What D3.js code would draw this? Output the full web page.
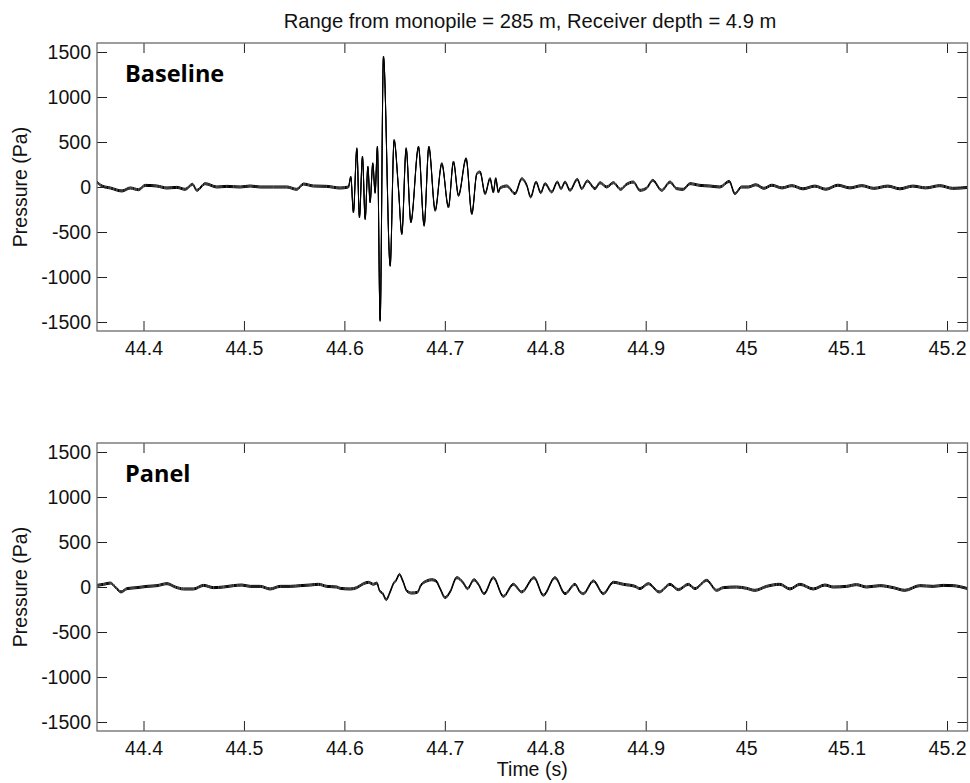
<!DOCTYPE html>
<html>
<head>
<meta charset="utf-8">
<script src="https://cdn.jsdelivr.net/npm/d3@7"></script>
<style>
  html, body { margin: 0; padding: 0; background: #fff; }
  svg { display: block; }
  text { fill: #111; }
</style>
</head>
<body>
<svg id="chart" width="970" height="783"></svg>
<script>
// Pressure trace, baseline recording (time in s, pressure in Pa)
const baselineTimes = [
  44.3537, 44.3587, 44.3670, 44.3786, 44.3868, 44.3950, 44.4017, 44.4133, 44.4233, 44.4332,
  44.4415, 44.4488, 44.4531, 44.4614, 44.4730, 44.4830, 44.4962, 44.5062, 44.5161, 44.5294,
  44.5427, 44.5526, 44.5592, 44.5692, 44.5825, 44.5957, 44.6040,
  44.6064, 44.6090, 44.6124, 44.6150, 44.6180, 44.6207, 44.6234, 44.6256, 44.6283, 44.6306,
  44.6329, 44.6356, 44.6389, 44.6456, 44.6495, 44.6538, 44.6572, 44.6615, 44.6662, 44.6738,
  44.6794, 44.6841, 44.6904, 44.6970, 44.7036, 44.7086, 44.7136, 44.7212, 44.7269, 44.7319,
  44.7351, 44.7401, 44.7450, 44.7483, 44.7507, 44.7533,
  44.7550, 44.7617, 44.7699, 44.7766, 44.7816, 44.7855, 44.7908, 44.7955, 44.7998, 44.8064,
  44.8120, 44.8157, 44.8197, 44.8246, 44.8319, 44.8363, 44.8419, 44.8495, 44.8545, 44.8612,
  44.8678, 44.8751, 44.8804, 44.8877, 44.8943, 44.9010, 44.9070, 44.9159, 44.9242, 44.9308,
  44.9374, 44.9440, 44.9540, 44.9639, 44.9739, 44.9832, 44.9888, 44.9955, 45.0021,
  45.0097, 45.0177, 45.0256, 45.0356, 45.0455, 45.0565, 45.0684, 45.0794, 45.0913, 45.1033,
  45.1152, 45.1271, 45.1411, 45.1530, 45.1659, 45.1789, 45.1928, 45.2057, 45.2204
];
const baselineValues = [
  55, 11, -11, -44, -11, -30, 18, 11, -11, -4,
  -26, 30, -37, 37, 0, 7, 0, 11, 0, 0,
  0, -26, 33, 11, 7, -11, 0,
  111, -278, 425, -333, 333, -352, 222, -167, 259, -60,
  444, -1482, 1444, -871, 518, -10, -519, 426, -389, 444,
  -426, 444, -259, 259, -222, 278, -93, 315, -296, 148,
  167, -74, 93, -56, 93, -56,
  -11, 11, -74, 92, 18, -111, 55, -63, 37, -55,
  55, -18, 55, -37, 85, -18, 67, -18, 48, 0,
  48, -26, 26, 55, -37, -11, 74, -37, 55, -18,
  -26, 37, 18, 11, 0, 63, -74, 0, 0,
  25, -15, 20, -10, 15, -20, 10, -25, 20, -10,
  15, -15, 10, -20, 10, -10, 15, -15, -5
];

// Pressure trace, panel recording
const panelTimes = [
  44.3537, 44.3603, 44.3670, 44.3719, 44.3776, 44.3836, 44.3935, 44.4035, 44.4135, 44.4234,
  44.4316, 44.4399, 44.4498, 44.4598, 44.4697, 44.4797, 44.4896, 44.4980, 44.5062, 44.5162,
  44.5261, 44.5361, 44.5460, 44.5560, 44.5659, 44.5742, 44.5825, 44.5925,
  44.5958, 44.6057, 44.6124, 44.6190, 44.6240, 44.6290, 44.6323, 44.6349, 44.6383, 44.6416,
  44.6455, 44.6488, 44.6515, 44.6548, 44.6582, 44.6622, 44.6671, 44.6727, 44.6761, 44.6820,
  44.6870, 44.6913, 44.6953, 44.7003, 44.7052, 44.7119, 44.7185, 44.7225, 44.7291, 44.7334,
  44.7391, 44.7483, 44.7583, 44.7682, 44.7766, 44.7888, 44.7981, 44.8097, 44.8197, 44.8296,
  44.8346, 44.8379, 44.8479, 44.8578, 44.8678, 44.8777, 44.8894, 44.8943, 44.9026, 44.9135,
  44.9242, 44.9325, 44.9424, 44.9490, 44.9607, 44.9706, 44.9772, 44.9905, 45.0005, 45.0087,
  45.0204, 45.0336, 45.0436, 45.0535, 45.0668, 45.0784, 45.0867, 45.1000, 45.1099, 45.1199,
  45.1331, 45.1464, 45.1580, 45.1729, 45.1862, 45.1962, 45.2061, 45.2204
];
const panelValues = [
  18, 30, 44, 0, -55, -18, -7, 7, 15, 37,
  0, -22, -22, 18, -7, 0, 15, 22, 7, 7,
  -22, 7, 7, 15, 22, 30, 7, 0,
  -15, -22, -7, 37, 52, 30, 44, -37, -74, -140,
  -55, 37, 74, 140, 67, -44, -67, -59, 18, 67,
  81, 67, -18, -118, -55, 104, 44, -18, 81, 30,
  -74, 104, -104, 30, -55, 104, -92, 104, -74, 30,
  -55, -74, 67, -74, 52, 30, 7, -18, 37, -55,
  30, -30, 30, -18, 74, -37, -7, 0, -15, -37,
  7, 30, -22, 30, -22, 22, 0, 7, 26, 0,
  15, -7, -37, 15, 7, 18, 15, -18
];

// Axis ticks and their labels
const xTicks = [44.4, 44.5, 44.6, 44.7, 44.8, 44.9, 45.0, 45.1, 45.2];
const xTickLabels = ["44.4", "44.5", "44.6", "44.7", "44.8", "44.9", "45", "45.1", "45.2"];
const yTicks = [-1500, -1000, -500, 0, 500, 1000, 1500];
const yTickLabels = ["-1500", "-1000", "-500", "0", "500", "1000", "1500"];

const panels = [
  { name: "Baseline", times: baselineTimes, values: baselineValues, top: 43 },
  { name: "Panel",    times: panelTimes,    values: panelValues,    top: 443 }
];

const sansFont = "'Liberation Sans', Arial, sans-serif";
const svg = d3.select("#chart");
const left = 97, right = 967.5, plotH = 288;
const tickLen = 10;

const x = d3.scaleLinear().domain([44.3537, 45.2204]).range([left, right]);

panels.forEach((p, i) => {
  const y = d3.scaleLinear().domain([-1600, 1600]).range([p.top + plotH, p.top]);
  const g = svg.append("g");

  // trace: a few slightly offset strokes give the noisy band its body
  const line = d3.line()
    .x((d, j) => x(p.times[j]))
    .y(d => y(d))
    .curve(d3.curveMonotoneX);
  const clipId = "clip" + i;
  svg.append("clipPath").attr("id", clipId)
    .append("rect").attr("x", left).attr("y", p.top).attr("width", right - left).attr("height", plotH);
  const traces = g.append("g").attr("clip-path", `url(#${clipId})`);
  [-1, 0, 1].forEach(dy => {
    traces.append("path")
      .datum(p.values)
      .attr("d", line)
      .attr("transform", `translate(0,${dy})`)
      .attr("fill", "none")
      .attr("stroke", "#000")
      .attr("stroke-width", 1)
      .attr("stroke-linejoin", "round");
  });

  // axes with inward ticks
  const xb = d3.axisBottom(x).tickValues(xTicks)
    .tickFormat((d, k) => xTickLabels[k]).tickSizeInner(-tickLen).tickSizeOuter(0).tickPadding(10);
  const xt = d3.axisTop(x).tickValues(xTicks).tickFormat("").tickSizeInner(-tickLen).tickSizeOuter(0);
  const yl = d3.axisLeft(y).tickValues(yTicks)
    .tickFormat((d, k) => yTickLabels[k]).tickSizeInner(-tickLen).tickSizeOuter(0).tickPadding(6);
  const yr = d3.axisRight(y).tickValues(yTicks).tickFormat("").tickSizeInner(-tickLen).tickSizeOuter(0);

  const axes = [
    g.append("g").attr("transform", `translate(0,${p.top + plotH})`).call(xb),
    g.append("g").attr("transform", `translate(0,${p.top})`).call(xt),
    g.append("g").attr("transform", `translate(${left},0)`).call(yl),
    g.append("g").attr("transform", `translate(${right},0)`).call(yr)
  ];
  axes.forEach(a => {
    a.select(".domain").remove();
    a.selectAll(".tick line").attr("stroke", "#222");
    a.selectAll("text").style("font-size", "19.5px").style("fill", "#111")
      .style("font-family", sansFont);
  });

  // plot box
  g.append("rect")
    .attr("x", left).attr("y", p.top).attr("width", right - left).attr("height", plotH)
    .attr("fill", "none").attr("stroke", "#6a6a6a").attr("stroke-width", 1.3);

  // y-axis title
  g.append("text")
    .attr("transform", `translate(27,${y(0)}) rotate(-90)`)
    .attr("text-anchor", "middle")
    .style("font-family", sansFont)
    .style("font-size", "19.5px")
    .text("Pressure (Pa)");

  // panel name
  g.append("text")
    .attr("x", 125).attr("y", p.top + 39)
    .style("font-family", "'Open Sans', sans-serif")
    .style("font-weight", 700)
    .style("font-size", "23.5px")
    .style("fill", "#000")
    .text(p.name);
});

// figure title and x-axis title
svg.append("text")
  .attr("x", 530).attr("y", 28)
  .attr("text-anchor", "middle")
  .style("font-family", sansFont)
  .style("font-size", "20.2px")
  .text("Range from monopile = 285 m, Receiver depth = 4.9 m");

svg.append("text")
  .attr("x", (left + right) / 2).attr("y", 776)
  .attr("text-anchor", "middle")
  .style("font-family", sansFont)
  .style("font-size", "19.5px")
  .text("Time (s)");
</script>
</body>
</html>
